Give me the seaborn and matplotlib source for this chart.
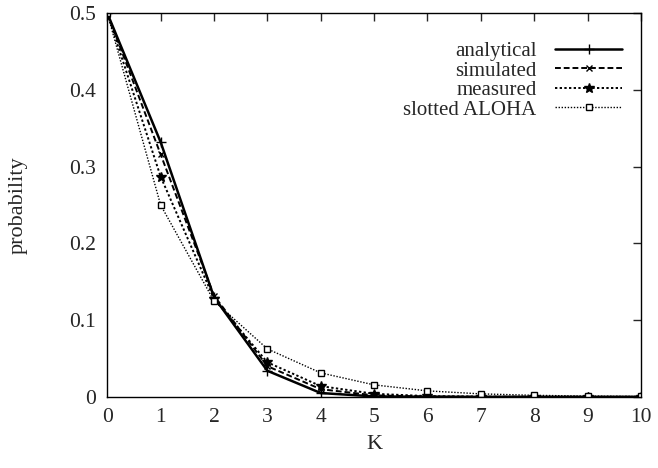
import numpy as np
import pandas as pd
import matplotlib
matplotlib.use("Agg")
import matplotlib.pyplot as plt
import seaborn as sns

K = list(range(11))
analytical = [0.5, 0.332, 0.130, 0.034, 0.005, 0.0006, 0.0001, 0.0, 0.0, 0.0, 0.0]
simulated = [0.5, 0.316, 0.132, 0.040, 0.010, 0.002, 0.0004, 0.0001, 0.0, 0.0, 0.0]
measured = [0.5, 0.287, 0.128, 0.045, 0.014, 0.004, 0.001, 0.0003, 0.0001, 0.0, 0.0]
aloha = [0.5, 0.25, 0.125, 0.0625, 0.03125, 0.015625, 0.0078, 0.0039, 0.002, 0.001, 0.0005]

series = {
    "analytical": analytical,
    "simulated": simulated,
    "measured": measured,
    "slotted ALOHA": aloha,
}
styles = {
    "analytical": dict(ls="-", lw=1.8, marker="+", ms=7, mfc="black"),
    "simulated": dict(ls=(0, (3, 1.5)), lw=1.4, marker="x", ms=5, mfc="black"),
    "measured": dict(ls=(0, (1.2, 1.2)), lw=1.4, marker="*", ms=7, mfc="black"),
    "slotted ALOHA": dict(ls=(0, (1.0, 1.2)), lw=1.0, marker="s", ms=5, mfc="white"),
}

sns.set_style("white")
plt.rcParams["font.family"] = ["Liberation Serif", "DejaVu Serif"]

fig = plt.figure(figsize=(6.58, 4.68), dpi=100)
ax = fig.add_axes([0.163, 0.152, 0.811, 0.82])

for name, vals in series.items():
    df = pd.DataFrame({"K": K, "p": vals})
    st = styles[name]
    sns.lineplot(data=df, x="K", y="p", ax=ax, color="black", linestyle=st["ls"],
                 linewidth=st["lw"], marker=st["marker"], markersize=st["ms"],
                 markerfacecolor=st["mfc"], markeredgecolor="black", markeredgewidth=1.0,
                 label=name)

ax.set_xlim(0, 10)
ax.set_ylim(0, 0.5)
ax.set_xticks(range(11))
ax.set_yticks([0, 0.1, 0.2, 0.3, 0.4, 0.5])
ax.set_yticklabels(["0", "0.1", "0.2", "0.3", "0.4", "0.5"])
ax.tick_params(direction="in", top=True, right=True, length=6, width=1, labelsize=15.5, pad=8)
for s in ax.spines.values():
    s.set_color("black")
    s.set_linewidth(1.0)
ax.set_xlabel("K", fontsize=16, labelpad=6)
ax.set_ylabel("probability", fontsize=16, labelpad=30)

leg = ax.legend(loc="upper right", bbox_to_anchor=(1.0, 0.975), frameon=False, markerfirst=False,
                fontsize=15, handlelength=3.2, labelspacing=0.0, handletextpad=0.9)

fig.savefig("out.png", dpi=100)
